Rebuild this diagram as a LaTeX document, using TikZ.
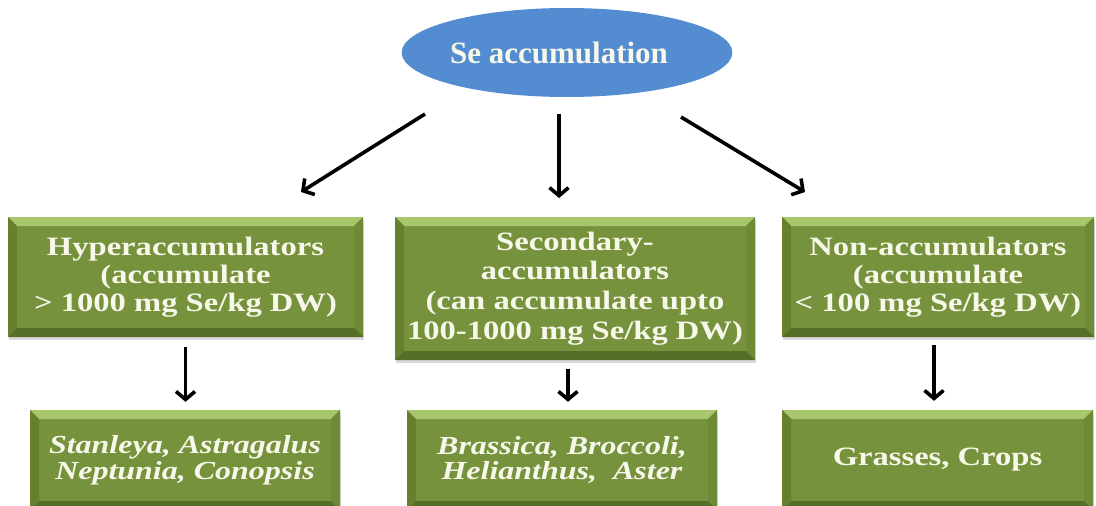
\documentclass[tikz,border=0pt]{standalone}
\usepackage{fontspec}
\setmainfont{Liberation Serif}
\newfontfamily\wideserif{Liberation Serif}[FakeStretch=1.23]
\usetikzlibrary{arrows.meta,shapes.geometric,shadows}
\definecolor{seblue}{RGB}{84,140,210}
\definecolor{leafgreen}{RGB}{118,146,60}
\definecolor{leaftop}{RGB}{168,198,108}
\definecolor{leafleft}{RGB}{102,128,48}
\definecolor{leafright}{RGB}{110,138,54}
\definecolor{leafbottom}{RGB}{86,110,40}
\definecolor{leaftext}{RGB}{247,247,234}
\tikzset{
  arr/.style={line width=3.6pt,-{Straight Barb[length=8pt,width=19pt]}},
  bevel/.style={path picture={
    \coordinate (pa) at (path picture bounding box.north west);
    \coordinate (pb) at (path picture bounding box.north east);
    \coordinate (pc) at (path picture bounding box.south east);
    \coordinate (pd) at (path picture bounding box.south west);
    \fill[leaftop] (pa) -- (pb) -- ([shift={(-9pt,-9pt)}]pb) -- ([shift={(9pt,-9pt)}]pa) -- cycle;
    \fill[leafright] (pb) -- (pc) -- ([shift={(-9pt,9pt)}]pc) -- ([shift={(-9pt,-9pt)}]pb) -- cycle;
    \fill[leafbottom] (pc) -- (pd) -- ([shift={(9pt,9pt)}]pd) -- ([shift={(-9pt,9pt)}]pc) -- cycle;
    \fill[leafleft] (pd) -- (pa) -- ([shift={(9pt,-9pt)}]pa) -- ([shift={(9pt,9pt)}]pd) -- cycle;
  }},
  leafbox/.style={fill=leafgreen, bevel, inner sep=0pt, align=center, text=leaftext,
    drop shadow={shadow xshift=1pt, shadow yshift=-3pt, opacity=0.3},
    font=\wideserif\bfseries\fontsize{26.5}{28}\selectfont},
  specbox/.style={leafbox, minimum height=100pt,
    font=\wideserif\bfseries\itshape\fontsize{26}{25.5}\selectfont},
}
\begin{document}
\begin{tikzpicture}[x=1pt,y=1pt]
  \useasboundingbox (0,0) rectangle (1096,-506);
  \node[ellipse, fill=seblue, minimum width=318pt, minimum height=89pt, inner sep=0pt,
    text=leaftext, font=\bfseries\fontsize{31}{34}\selectfont] (se) at (567,-52.5) {Se accumulation\hspace*{16pt}};

  \node[leafbox, minimum width=355pt, minimum height=120pt] (hyper) at (185.5,-277)
    {Hyperaccumulators\\(accumulate\\> 1000 mg Se/kg DW)};
  \node[leafbox, minimum width=360pt, minimum height=143pt,
    font=\wideserif\bfseries\fontsize{26.5}{29.7}\selectfont] (sec) at (575,-288.5)
    {Secondary-\\accumulators\\(can accumulate upto\\100-1000 mg Se/kg DW)};
  \node[leafbox, minimum width=312pt, minimum height=120pt] (non) at (938,-277)
    {Non-accumulators\\(accumulate\\< 100 mg Se/kg DW)};

  \node[specbox, minimum width=310pt] (stan) at (185,-460) {Stanleya, Astragalus\\Neptunia, Conopsis};
  \node[specbox, minimum width=310pt] (bras) at (562,-460) {Brassica, Broccoli,\\Helianthus,~ Aster};
  \node[specbox, minimum width=311pt, font=\wideserif\bfseries\fontsize{26.5}{28}\selectfont] (gras) at (937.5,-460) {Grasses, Crops};

  \coordinate (ls) at (425,-114); \coordinate (le) at (301,-192);
  \coordinate (ms) at (559,-114); \coordinate (me) at (559,-198);
  \coordinate (rs) at (681,-117); \coordinate (re) at (805,-192);
  \draw[arr] (ls) -- (le);
  \draw[arr] (ms) -- (me);
  \draw[arr] (rs) -- (re);

  \draw[arr, shorten <=10pt, shorten >=8pt] (hyper.south) -- (hyper.south |- stan.north);
  \draw[arr, shorten <=9pt, shorten >=8pt] ([xshift=-7pt]sec.south) -- ([xshift=-7pt]sec.south |- bras.north);
  \draw[arr, shorten <=8pt, shorten >=9pt] ([xshift=-4pt]non.south) -- ([xshift=-4pt]non.south |- gras.north);
\end{tikzpicture}
\end{document}
